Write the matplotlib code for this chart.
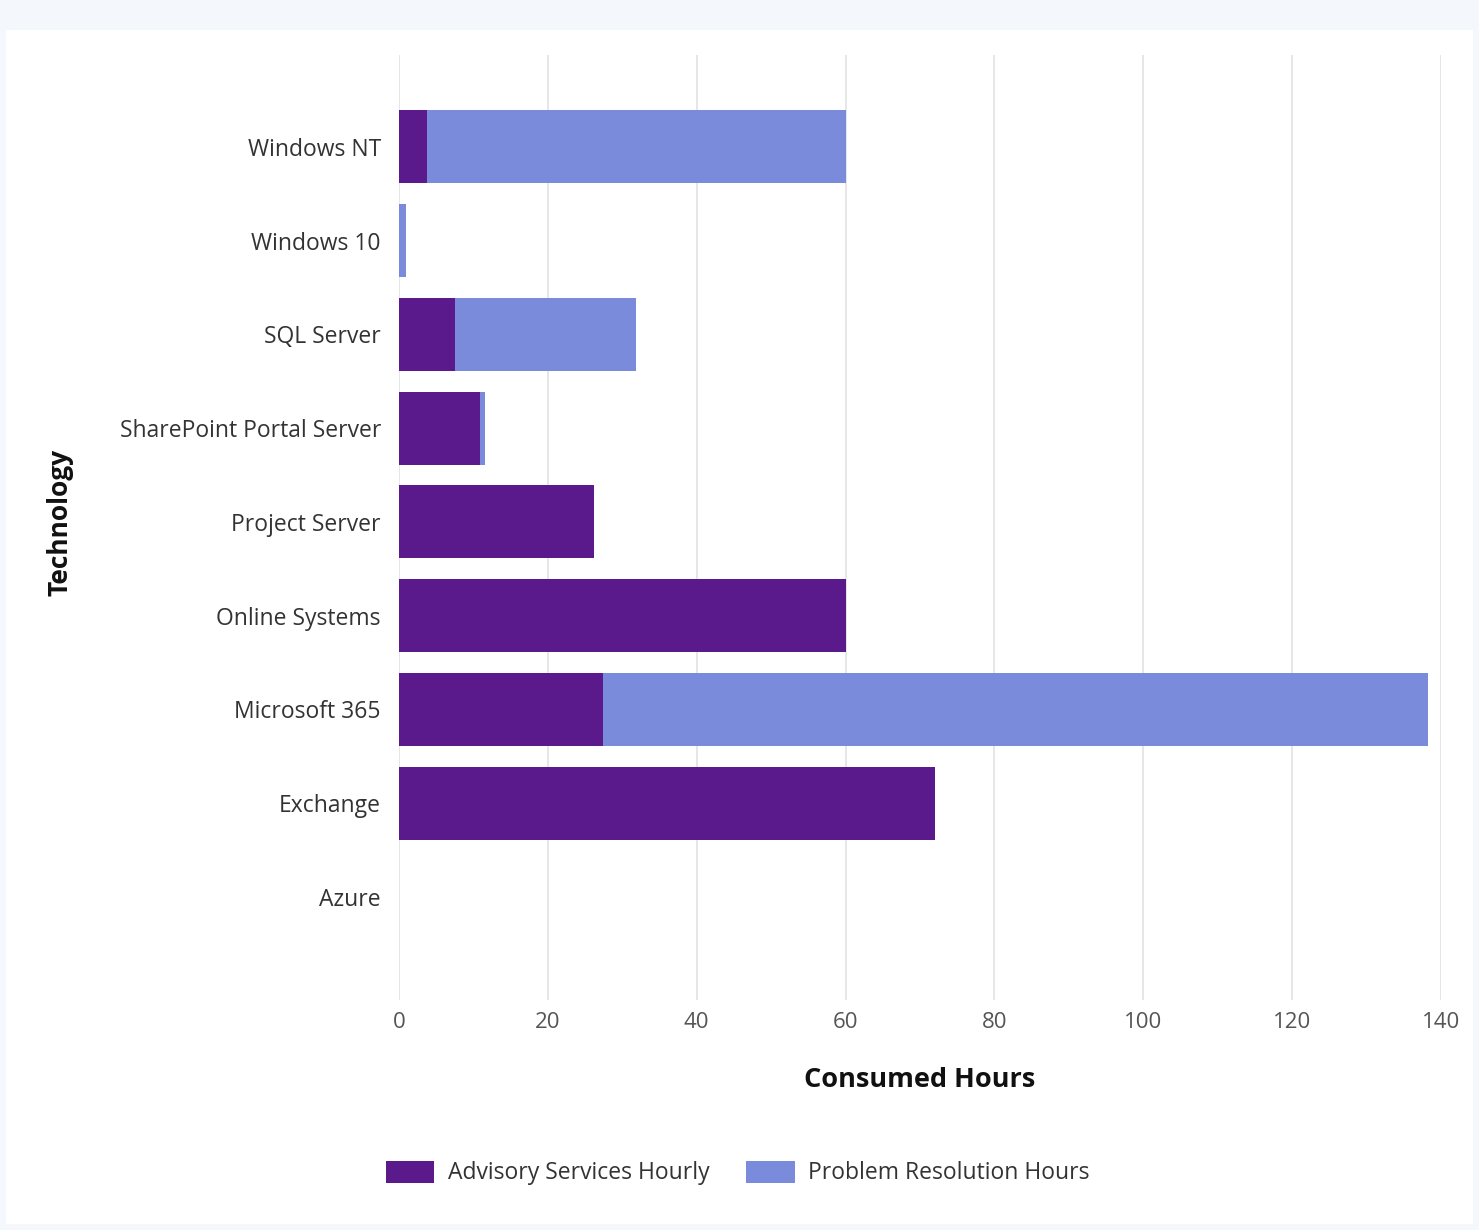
import matplotlib
matplotlib.use("Agg")
import matplotlib.pyplot as plt
from matplotlib.patches import Rectangle
import numpy as np

categories = ["Windows NT", "Windows 10", "SQL Server", "SharePoint Portal Server",
              "Project Server", "Online Systems", "Microsoft 365", "Exchange", "Azure"]
advisory = [3.7, 0, 7.5, 10.9, 26.2, 60, 27.4, 72, 0]
problem = [56.3, 1.0, 24.3, 0.7, 0, 0, 110.9, 0, 0]
xticks = [0, 20, 40, 60, 80, 100, 120, 140]

c_adv = "#5B1A8B"
c_prob = "#7A8BDB"

plt.rcParams['font.family'] = ['Open Sans', 'DejaVu Sans']

fig = plt.figure(figsize=(14.79, 12.30), dpi=100)
fig.patch.set_facecolor("#F4F7FB")
# white panel
fig.patches.append(Rectangle((6/1479, 6/1230), 1 - 12/1479, 1 - 36/1230,
                             transform=fig.transFigure, facecolor="white",
                             edgecolor="none", zorder=-5))

ax = fig.add_axes([399/1479, 1 - 1000/1230, (1441-399)/1479, (1000-55)/1230])
ax.set_zorder(2)
ax.set_facecolor("none")
y = np.arange(len(categories))
ax.barh(y, advisory, height=0.78, color=c_adv, label="Advisory Services Hourly", zorder=3)
ax.barh(y, problem, left=advisory, height=0.78, color=c_prob, label="Problem Resolution Hours", zorder=3)

ax.set_xlim(0, 140)
ax.set_ylim(len(categories) - 1 + 1.1, -0.98)
ax.set_xticks(xticks)
ax.set_xticklabels([str(t) for t in xticks], fontsize=16, color="#555555")
ax.set_yticks(y)
ax.set_yticklabels(categories, fontsize=16.5, color="#333333")
ax.tick_params(axis='both', length=0)
ax.tick_params(axis='x', pad=9)
ax.tick_params(axis='y', pad=13)
ax.grid(axis='x', color="#E2E2E2", linewidth=1.2, zorder=0)
for s in ax.spines.values():
    s.set_visible(False)

ax.set_xlabel("Consumed Hours", fontsize=19.5, fontweight='bold', color="#111111", labelpad=24)
fig.text(60/1479, 1 - 522/1230, "Technology", rotation=90, fontsize=19, fontweight='bold',
         color="#111111", ha='center', va='center', zorder=3)

leg = fig.legend(loc='center', bbox_to_anchor=(738/1479, 1 - 1173/1230), ncol=2,
                 frameon=False, fontsize=16.5, handlelength=2.1, handleheight=1.1,
                 columnspacing=1.6, handletextpad=0.6)
leg.set_zorder(3)
for t in leg.get_texts():
    t.set_color("#333333")

fig.savefig("out.png", dpi=100, facecolor=fig.get_facecolor())
